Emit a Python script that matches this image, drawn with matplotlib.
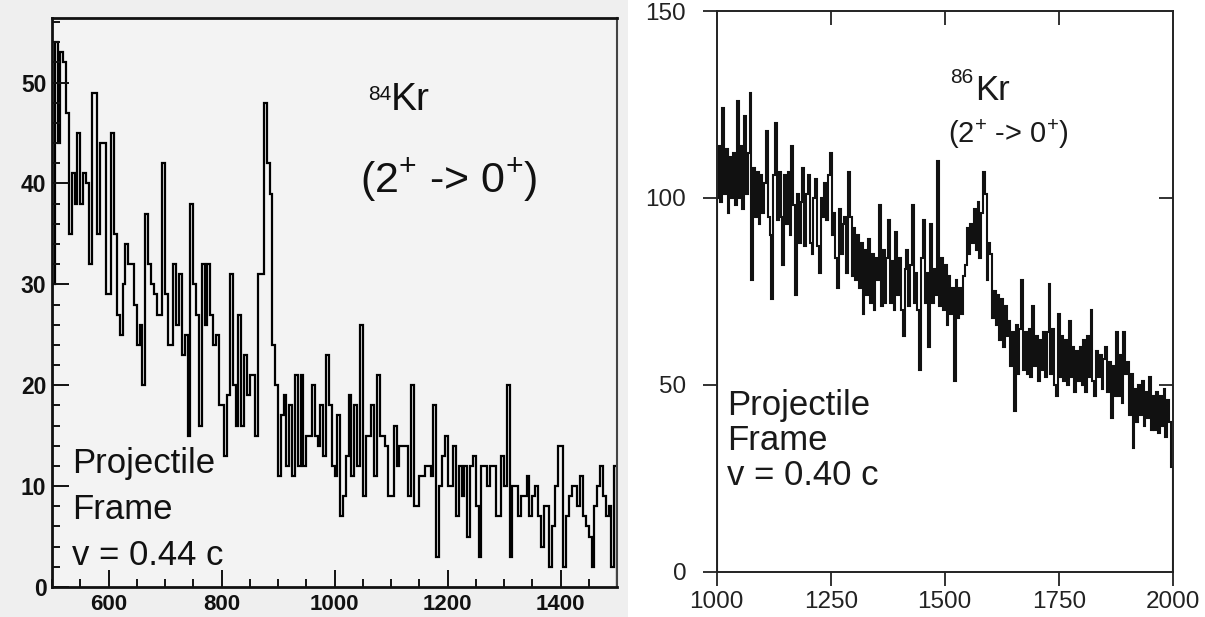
import numpy as np
import matplotlib
matplotlib.use("Agg")
import matplotlib.pyplot as plt
from matplotlib.patches import Rectangle
from matplotlib.ticker import MultipleLocator

plt.rcParams['font.family'] = ['Liberation Sans', 'DejaVu Sans']
plt.rcParams['mathtext.fontset'] = 'custom'
plt.rcParams['mathtext.rm'] = 'Liberation Sans'
plt.rcParams['mathtext.default'] = 'regular'

# 84Kr spectrum, 5 keV bins from 500 to 1500
kr84_edges = np.arange(500, 1501, 5)
kr84_counts = [
    30, 54, 44, 53, 52, 47, 35, 41, 38, 45,
    38, 41, 40, 32, 49, 49, 35, 44, 44, 29,
    29, 45, 35, 27, 25, 30, 34, 32, 32, 28,
    24, 26, 20, 37, 32, 30, 29, 27, 27, 42,
    29, 24, 24, 32, 26, 31, 23, 25, 15, 38,
    30, 27, 16, 32, 26, 32, 27, 24, 25, 18,
    18, 13, 19, 31, 20, 16, 27, 16, 23, 19,
    21, 21, 15, 31, 31, 48, 42, 39, 24, 20,
    11, 17, 19, 12, 18, 11, 21, 12, 21, 12,
    15, 15, 20, 15, 14, 18, 13, 23, 18, 12,
    11, 17, 7, 9, 13, 19, 11, 18, 12, 26,
    9, 15, 15, 18, 11, 21, 15, 15, 14, 9,
    9, 16, 12, 14, 14, 14, 9, 20, 8, 8,
    11, 11, 12, 12, 11, 18, 3, 10, 13, 15,
    10, 10, 14, 7, 12, 9, 12, 5, 12, 13,
    8, 3, 12, 12, 10, 12, 12, 7, 7, 13,
    10, 20, 3, 10, 10, 7, 9, 9, 11, 7,
    9, 10, 7, 4, 8, 8, 2, 6, 10, 14,
    14, 2, 7, 9, 10, 10, 8, 11, 7, 6,
    5, 2, 8, 10, 12, 9, 7, 8, 2, 12,
]

# 86Kr spectrum, 4 keV bins from 1000 to 2000
kr86_edges = np.arange(1000, 2001, 4)
kr86_counts = [
    100, 114, 99, 124, 101, 113, 96, 111, 100, 112,
    98, 126, 100, 114, 97, 122, 101, 112, 128, 78,
    108, 95, 107, 93, 106, 96, 104, 118, 95, 90,
    73, 106, 120, 94, 107, 95, 82, 106, 93, 107,
    90, 114, 98, 74, 101, 88, 99, 108, 87, 101,
    106, 88, 85, 100, 105, 87, 80, 100, 95, 104,
    94, 106, 112, 90, 96, 84, 76, 97, 85, 93,
    95, 80, 107, 95, 79, 92, 78, 90, 76, 88,
    69, 86, 74, 89, 72, 85, 70, 84, 78, 98,
    71, 86, 72, 84, 94, 72, 83, 70, 91, 74,
    84, 70, 63, 81, 86, 71, 82, 98, 72, 80,
    70, 54, 84, 94, 72, 80, 60, 93, 72, 81,
    74, 110, 71, 84, 70, 82, 66, 79, 69, 76,
    51, 78, 68, 76, 69, 79, 82, 92, 85, 93,
    88, 97, 86, 99, 84, 96, 107, 101, 78, 88,
    85, 68, 75, 66, 74, 62, 73, 60, 71, 63,
    67, 55, 64, 43, 66, 53, 65, 78, 54, 64,
    53, 65, 52, 71, 55, 63, 51, 62, 54, 64,
    52, 64, 77, 53, 65, 50, 47, 69, 52, 63,
    51, 62, 50, 67, 52, 60, 48, 59, 51, 60,
    50, 62, 48, 63, 52, 70, 51, 47, 59, 52,
    58, 49, 57, 60, 48, 56, 41, 55, 47, 64,
    47, 58, 45, 64, 53, 56, 42, 53, 33, 49,
    40, 50, 42, 51, 39, 48, 41, 52, 38, 47,
    38, 48, 37, 47, 39, 49, 36, 46, 40, 28,
]

kr84_ticks = [600, 800, 1000, 1200, 1400]
kr86_xticks = [1000, 1250, 1500, 1750, 2000]
kr86_yticks = [0, 50, 100, 150]

W, H = 1205, 617
fig = plt.figure(figsize=(W / 100, H / 100), dpi=100)
fig.patch.set_facecolor('white')
# grey backdrop of the left screenshot
fig.patches.append(Rectangle((0, 0), 628 / W, 1, transform=fig.transFigure,
                             facecolor='#efefef', edgecolor='none', zorder=-10))


def ftext(x, y, s, **kw):
    fig.text(x / W, 1 - y / H, s, ha='left', va='baseline', **kw)


# ---- left panel (84Kr) ----
ax1 = fig.add_axes([52 / W, (H - 587) / H, 565 / W, 569 / H])
ax1.set_facecolor('#f3f3f3')
ax1.stairs(kr84_counts, kr84_edges, color='black', lw=1.6)
ax1.set_xlim(500, 1500)
ax1.set_ylim(0, 56.4)
ax1.set_xticks(kr84_ticks)
ax1.xaxis.set_minor_locator(MultipleLocator(50))
ax1.yaxis.set_major_locator(MultipleLocator(10))
ax1.yaxis.set_minor_locator(MultipleLocator(2))
ax1.tick_params(which='both', direction='in', width=1.4, colors='#111111')
ax1.tick_params(which='major', length=12)
ax1.tick_params(which='minor', length=5.5)
ax1.tick_params(axis='x', pad=5, labelsize=16)
ax1.tick_params(axis='y', pad=4, labelsize=16.5)
for lab in ax1.get_xticklabels() + ax1.get_yticklabels():
    lab.set_fontweight('bold')
for side in ['left', 'bottom', 'top']:
    ax1.spines[side].set_linewidth(2)
    ax1.spines[side].set_color('#111111')
ax1.spines['right'].set_linewidth(1.5)
ax1.spines['right'].set_color('#444444')

ftext(368, 100, '84', fontsize=15, color='#111111')
ftext(391, 110, 'Kr', fontsize=28, color='#111111')
ftext(360, 192, '(2$^{+}$ -> 0$^{+}$)', fontsize=31, color='#111111')
ftext(72, 473, 'Projectile', fontsize=25, color='#111111')
ftext(72, 519, 'Frame', fontsize=25, color='#111111')
ftext(72, 565, 'v = 0.44 c', fontsize=25, color='#111111')

# ---- right panel (86Kr) ----
ax2 = fig.add_axes([716.7 / W, (H - 571.7) / H, 456 / W, 560.7 / H])
ax2.set_facecolor('white')
ax2.stairs(kr86_counts, kr86_edges, color='#111111', lw=1.5)
ax2.set_xlim(1000, 2000)
ax2.set_ylim(0, 150)
ax2.set_xticks(kr86_xticks)
ax2.set_yticks(kr86_yticks)
ax2.tick_params(direction='out', length=10, width=1.3, colors='#222222',
                labelsize=17.5)
ax2.tick_params(axis='x', pad=4)
ax2.tick_params(axis='y', pad=12)
for side in ax2.spines:
    ax2.spines[side].set_linewidth(1.4)
    ax2.spines[side].set_color('#222222')

top = ax2.secondary_xaxis('top')
top.set_xticks(kr86_xticks[1:-1])
top.tick_params(direction='in', length=10, width=1.3, colors='#222222',
                labeltop=False)
top.spines['top'].set_visible(False)
right = ax2.secondary_yaxis('right')
right.set_yticks(kr86_yticks[1:-1])
right.tick_params(direction='in', length=10, width=1.3, colors='#222222',
                  labelright=False)
right.spines['right'].set_visible(False)

ftext(950, 83, '86', fontsize=15, color='#1a1a1a')
ftext(975, 100, 'Kr', fontsize=25, color='#1a1a1a')
ftext(948, 143, '(2$^{+}$ -> 0$^{+}$)', fontsize=21, color='#1a1a1a')
ftext(727, 415, 'Projectile', fontsize=25, color='#1a1a1a')
ftext(727, 450, 'Frame', fontsize=25, color='#1a1a1a')
ftext(727, 485, 'v = 0.40 c', fontsize=25, color='#1a1a1a')

fig.savefig('out.png', dpi=100)
